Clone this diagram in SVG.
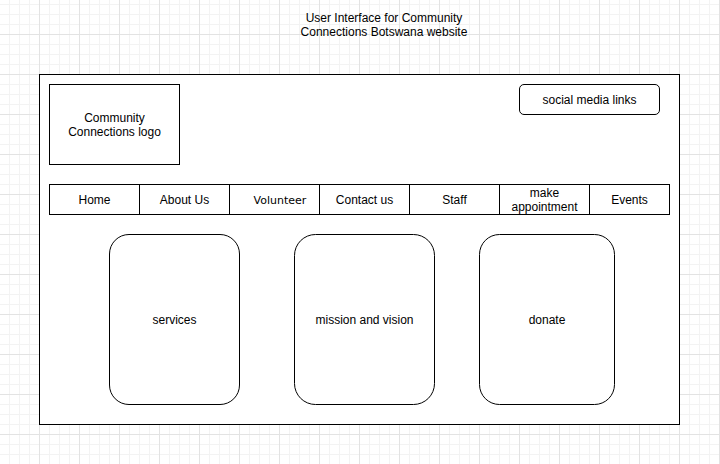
<svg xmlns="http://www.w3.org/2000/svg" width="720" height="464" viewBox="0 0 720 464">
<defs>
<pattern id="grid" patternUnits="userSpaceOnUse" x="0" y="-5" width="40" height="40">
<path d="M9.5 0V40M19.5 0V40M29.5 0V40M0 9.5H40M0 19.5H40M0 29.5H40" stroke="#f3f3f3" stroke-width="1" fill="none"/>
<path d="M39.5 0V40M0 39.5H40" stroke="#e3e3e3" stroke-width="1" fill="none"/>
</pattern>
</defs>
<style>
.box{fill:#ffffff;stroke:#000000;stroke-width:1}
.t{font-family:"Liberation Sans",Arial,sans-serif;font-size:12px;fill:#000000;text-anchor:middle}
.v{font-family:"DejaVu Sans",Verdana,sans-serif;font-size:11px;fill:#000000;text-anchor:middle}
</style>
<rect width="720" height="464" fill="#ffffff"/>
<rect width="720" height="464" fill="url(#grid)"/>
<g id="title">
<text class="t" x="384" y="22">User Interface for Community</text>
<text class="t" x="384" y="36">Connections Botswana website</text>
</g>
<g id="page"><rect class="box" x="39.5" y="74.5" width="640" height="350"/></g>
<g id="logo">
<rect class="box" x="49.5" y="84.5" width="130" height="80"/>
<text class="t" x="114.5" y="122">Community</text>
<text class="t" x="114.5" y="136">Connections logo</text>
</g>
<g id="social">
<rect class="box" x="519.5" y="84.5" width="140" height="30" rx="4.5" ry="4.5"/>
<text class="t" x="589.5" y="104">social media links</text>
</g>
<g id="nav-home"><rect class="box" x="49.5" y="184.5" width="90" height="30"/><text class="t" x="94.5" y="204">Home</text></g>
<g id="nav-about"><rect class="box" x="139.5" y="184.5" width="90" height="30"/><text class="t" x="184.5" y="204">About Us</text></g>
<g id="nav-volunteer"><rect class="box" x="229.5" y="184.5" width="90" height="30"/><text class="v" x="280" y="204">Volunteer</text></g>
<g id="nav-contact"><rect class="box" x="319.5" y="184.5" width="90" height="30"/><text class="t" x="364.5" y="204">Contact us</text></g>
<g id="nav-staff"><rect class="box" x="409.5" y="184.5" width="90" height="30"/><text class="t" x="454.5" y="204">Staff</text></g>
<g id="nav-appointment"><rect class="box" x="499.5" y="184.5" width="90" height="30"/><text class="t" x="544.5" y="197">make</text><text class="t" x="544.5" y="211">appointment</text></g>
<g id="nav-events"><rect class="box" x="589.5" y="184.5" width="80" height="30"/><text class="t" x="629.5" y="204">Events</text></g>
<g id="services"><rect class="box" x="109.5" y="234.5" width="130" height="170" rx="19.5" ry="19.5"/><text class="t" x="174.5" y="324">services</text></g>
<g id="mission"><rect class="box" x="294.5" y="234.5" width="140" height="170" rx="21" ry="21"/><text class="t" x="364.5" y="324">mission and vision</text></g>
<g id="donate"><rect class="box" x="479.5" y="234.5" width="135" height="170" rx="20" ry="20"/><text class="t" x="547" y="324">donate</text></g>
<g id="connectors"></g>
</svg>
